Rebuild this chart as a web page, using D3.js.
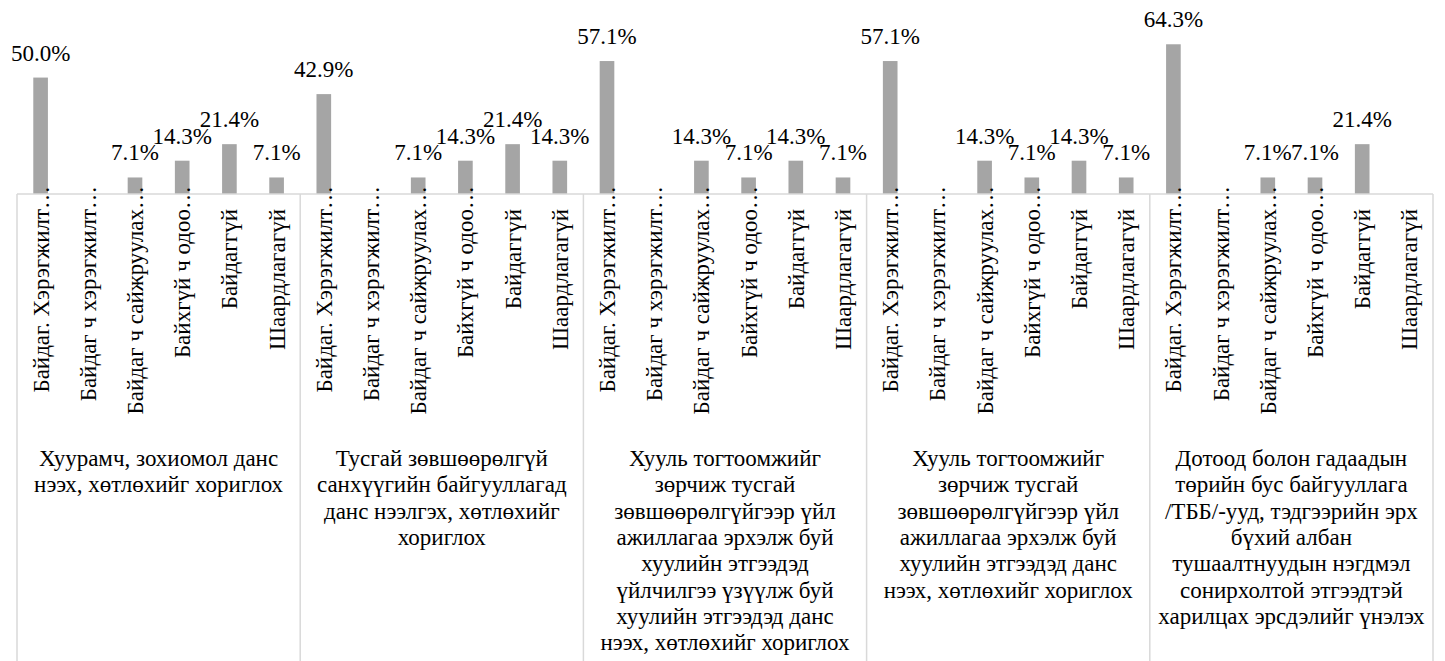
<!DOCTYPE html>
<html>
<head>
<meta charset="utf-8">
<script src="https://cdn.jsdelivr.net/npm/d3@7"></script>
</head>
<body style="margin:0">
<script>
// answer options (x axis, inner level), as truncated in the chart
var categories = [
    'Байдаг. Хэрэгжилт…',
    'Байдаг ч хэрэгжилт…',
    'Байдаг ч сайжруулах…',
    'Байхгүй ч одоо…',
    'Байдаггүй',
    'Шаардлагагүй'
];

// outer level labels, one list of lines per group
var groupLabels = [
    ['Хуурамч, зохиомол данс', 'нээх, хөтлөхийг хориглох'],
    ['Тусгай зөвшөөрөлгүй', 'санхүүгийн байгууллагад', 'данс нээлгэх, хөтлөхийг', 'хориглох'],
    ['Хууль тогтоомжийг', 'зөрчиж тусгай', 'зөвшөөрөлгүйгээр үйл', 'ажиллагаа эрхэлж буй',
     'хуулийн этгээдэд', 'үйлчилгээ үзүүлж буй', 'хуулийн этгээдэд данс', 'нээх, хөтлөхийг хориглох'],
    ['Хууль тогтоомжийг', 'зөрчиж тусгай', 'зөвшөөрөлгүйгээр үйл', 'ажиллагаа эрхэлж буй',
     'хуулийн этгээдэд данс', 'нээх, хөтлөхийг хориглох'],
    ['Дотоод болон гадаадын', 'төрийн бус байгууллага', '/ТББ/-ууд, тэдгээрийн эрх', 'бүхий албан',
     'тушаалтнуудын нэгдмэл', 'сонирхолтой этгээдтэй', 'харилцах эрсдэлийг үнэлэх']
];

// percent values per group
var group1 = [50.0, 0, 7.1, 14.3, 21.4, 7.1];
var group2 = [42.9, 0, 7.1, 14.3, 21.4, 14.3];
var group3 = [57.1, 0, 14.3, 7.1, 14.3, 7.1];
var group4 = [57.1, 0, 14.3, 7.1, 14.3, 7.1];
var group5 = [64.3, 0, 7.1, 7.1, 21.4, 0];
var groupValues = [group1, group2, group3, group4, group5];

var W = 1445, H = 661;
var margin = {left: 17, right: 12, top: 31};
var baseY = 194;
var fontFam = 'Times New Roman';
var fontSize = 23;
var gridColor = '#d9d9d9';
var barColor = '#a5a5a5';

var svg = d3.select('body').append('svg')
    .attr('width', W)
    .attr('height', H);

var rows = [];
groupValues.forEach(function(vals, gi) {
    vals.forEach(function(v, ci) {
        rows.push({key: gi + '-' + ci, group: gi, cat: ci, value: v});
    });
});

var xScale = d3.scaleBand()
    .domain(rows.map(function(d) { return d.key; }))
    .range([margin.left, W - margin.right])
    .paddingInner(0.69)
    .paddingOuter(0.345);
var step = xScale.step();

var yScale = d3.scaleLinear()
    .domain([0, 70])
    .range([baseY, margin.top]);

function addText(x, y, str, anchor, transform) {
    var t = svg.append('text')
        .attr('x', x)
        .attr('y', y)
        .attr('font-size', fontSize)
        .attr('font-family', fontFam)
        .attr('text-anchor', anchor)
        .text(str);
    if (transform) t.attr('transform', transform);
    return t;
}

// bars
rows.forEach(function(d) {
    svg.append('rect')
        .attr('x', xScale(d.key))
        .attr('y', yScale(d.value))
        .attr('width', xScale.bandwidth())
        .attr('height', baseY - yScale(d.value))
        .attr('fill', barColor);
});

// value labels
rows.forEach(function(d) {
    if (d.value <= 0) return;
    addText(xScale(d.key) + xScale.bandwidth() / 2, yScale(d.value) - 17,
        d.value.toFixed(1) + '%', 'middle');
});

// axis lines: baseline + group separators
var groupEdge = function(gi) { return margin.left + gi * step * categories.length; };
svg.append('line')
    .attr('x1', groupEdge(0)).attr('x2', groupEdge(groupValues.length))
    .attr('y1', baseY).attr('y2', baseY)
    .attr('stroke', gridColor).attr('stroke-width', 1.5);
d3.range(groupValues.length + 1).forEach(function(gi) {
    svg.append('line')
        .attr('x1', groupEdge(gi)).attr('x2', groupEdge(gi))
        .attr('y1', baseY).attr('y2', H)
        .attr('stroke', gridColor).attr('stroke-width', 1.5);
});

// rotated category labels
var labelTop = 209;
rows.forEach(function(d) {
    var cx = xScale(d.key) + xScale.bandwidth() / 2 + 8;
    var label = categories[d.cat];
    var cut = label.endsWith('…');
    var main = cut ? label.slice(0, -1) : label;
    var rot = 'rotate(-90,' + cx + ',' + labelTop + ')';
    addText(cx, labelTop, main, 'end', rot);
    if (cut) {
        // the ellipsis spills over the axis line as in the original
        addText(cx, labelTop, '…', 'start', rot);
    }
});

// group labels
var lineH = 26.3;
groupLabels.forEach(function(lines, gi) {
    var cx = (groupEdge(gi) + groupEdge(gi + 1)) / 2;
    lines.forEach(function(line, li) {
        addText(cx, 466 + li * lineH, line, 'middle');
    });
});
</script>
</body>
</html>
